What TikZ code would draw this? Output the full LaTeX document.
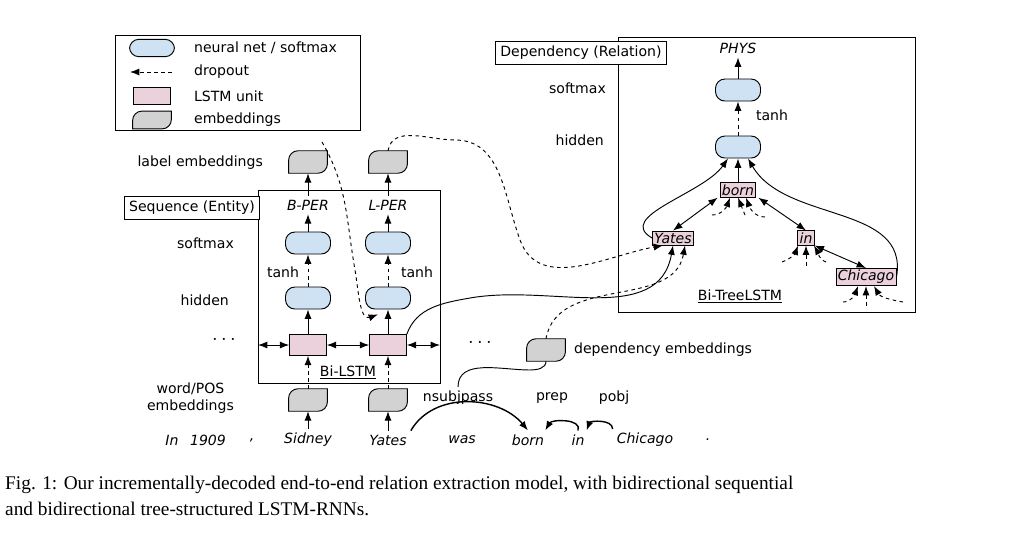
\documentclass[tikz,border=0pt]{standalone}
\usepackage{fontspec}
\setmainfont{DejaVu Sans}
\newfontfamily\capfont{Liberation Serif}
\usetikzlibrary{positioning,calc,arrows.meta}
\definecolor{nnblue}{RGB}{207,226,243}
\definecolor{lstmpink}{RGB}{234,209,220}
\tikzset{
  every node/.style={font=\fontsize{12}{14}\selectfont},
  nn/.style={draw,thick,fill=nnblue,rounded corners=8pt,minimum width=1.35cm,minimum height=.66cm},
  lstm/.style={draw,thick,fill=lstmpink,minimum width=1.1cm,minimum height=.62cm},
  tlstm/.style={draw,thick,fill=lstmpink,inner sep=1.5pt,font=\fontsize{12}{14}\selectfont\itshape},
  emb/.style={minimum width=1.15cm,minimum height=.66cm},
  embshape/.style={thick,fill=gray!35},
  lbox/.style={draw,thick,inner sep=4pt},
  wd/.style={font=\fontsize{12}{14}\selectfont\itshape},
  ar/.style={thick,-{Latex[length=8pt,width=6pt]}},
  dar/.style={thick,dashed,-{Latex[length=8pt,width=6pt]}},
  bar/.style={thick,{Latex[length=8pt,width=6pt]}-{Latex[length=8pt,width=6pt]}},
}
\newcommand{\embdraw}[1]{%
  \draw[embshape] (#1.south west) [rounded corners=8pt] -- (#1.north west) [sharp corners] -- (#1.north east) [rounded corners=8pt] -- (#1.south east) [sharp corners] -- cycle;}
\begin{document}
\begin{tikzpicture}[x=0.03cm,y=-0.03cm]
\useasboundingbox (0,0) rectangle (1030,548);

% legend
\draw[thick] (115,35) rectangle (360,130);
\node[nn,minimum height=.52cm] (lg1) at (152,48) {};
\coordinate (lga) at (130,72); \coordinate (lgb) at (172,72);
\draw[dar] (lgb) -- (lga);
\node[lstm,minimum height=.52cm] (lg3) at (152,96) {};
\node[emb,minimum height=.52cm] (lg4) at (152,120) {};
\embdraw{lg4}
\node[anchor=west] at (190,48) {neural net / softmax};
\node[anchor=west] at (190,72) {dropout};
\node[anchor=west] at (190,96) {LSTM unit};
\node[anchor=west] at (190,120) {embeddings};

% sequence layer
\draw[thick] (258,190) rectangle (440,383);
\node[lbox,fill=white] (seq) at (192,208) {Sequence (Entity)};
\foreach \c/\x/\l in {a/308/B-PER,b/388/L-PER}{
  \node[emb] (le\c) at (\x,162) {};
  \embdraw{le\c}
  \node[wd] (lab\c) at (\x,205) {\l};
  \node[nn] (sm\c) at (\x,243) {};
  \node[nn] (hd\c) at (\x,298) {};
  \node[lstm] (ls\c) at (\x,345) {};
  \node[emb] (we\c) at (\x,400) {};
  \embdraw{we\c}
  \draw[ar] (lab\c) -- (le\c);
  \draw[ar] (sm\c) -- (lab\c);
  \draw[dar] (hd\c) -- (sm\c);
  \draw[ar] (ls\c) -- (hd\c);
  \draw[dar] (we\c) -- (ls\c);
}
\node (tanha) at (283,272) {tanh};
\node (tanhb) at (417,272) {tanh};
\node[anchor=east] at (267,163) {label embeddings};
\node[anchor=east] at (238,243) {softmax};
\node[anchor=east] at (233,300) {hidden};
\node[anchor=east,align=center] at (238,398) {word/POS\\embeddings};
\node (dotsl) at (224,340) {\fontsize{16}{16}\selectfont\textbf{$\cdots$}};
\node (dotsr) at (480,343) {\fontsize{16}{16}\selectfont\textbf{$\cdots$}};
\coordinate (sl) at (258,345); \coordinate (sr) at (440,345);
\draw[bar] (sl) -- (lsa);
\draw[bar] (lsa) -- (lsb);
\draw[bar] (lsb) -- (sr);
\node (bilstm) at (348,372) {\underline{Bi-LSTM}};

% words
\foreach \n/\x/\w in {w1/172/In,w2/208/1909,w3/252/{,},w4/308/Sidney,w5/388/Yates,w6/462/was,w7/528/born,w8/578/in,w9/645/Chicago,w10/708/.}
  \node[wd] (\n) at (\x,440) {\w};
\draw[ar] (w4) -- (wea);
\draw[ar] (w5) -- (web);
\draw[ar,very thick] (w5.north east) to[out=60,in=130] (w7.north);
\draw[ar,very thick] (w8.north) to[out=70,in=60] ($(w7.north east)+(-3,0)$);
\draw[ar,very thick] (w9.north west) to[out=90,in=70] ($(w8.north east)+(-2,0)$);
\node (nsub) at (458,398) {nsubjpass};
\node (prep) at (552,398) {prep};
\node (pobj) at (614,398) {pobj};

% dependency layer
\draw[thick] (618,37) rectangle (915,312);
\node[lbox,fill=white] (dep) at (581,53) {Dependency (Relation)};
\node[wd] (phys) at (738,48) {PHYS};
\node[nn] (dsm) at (738,90) {};
\node[nn] (dhd) at (738,147) {};
\node (dtanh) at (772,115) {tanh};
\node[anchor=east] at (610,88) {softmax};
\node[anchor=east] at (608,140) {hidden};
\node[tlstm] (born) at (738,190) {born};
\node[tlstm] (yates) at (673,238) {Yates};
\node[tlstm] (in) at (806,238) {in};
\node[tlstm] (chic) at (866,277) {Chicago};
\node (btree) at (740,296) {\underline{Bi-TreeLSTM}};
\draw[ar] (dsm) -- (phys);
\draw[dar] (dhd) -- (dsm);
\draw[ar] (born) -- (dhd);
\draw[ar] (yates.west) to[out=150,in=235] ($(dhd.south)+(-10,0)$);
\draw[ar] (chic.east) to[out=80,in=-60] ($(dhd.south)+(10,0)$);
\draw[bar] (yates.north) -- ($(born.south west)+(-2,0)$);
\draw[bar] (in.north) -- ($(born.south east)+(2,0)$);
\draw[bar] (chic.north) -- (in.south east);
% dropout stubs
\coordinate (b1) at (712,215); \coordinate (b2) at (745,215); \coordinate (b3) at (765,217);
\draw[dar] (b1) to[out=0,in=-110] ($(born.south)+(-8,0)$);
\draw[dar] (b2) -- ($(born.south)+(0,0)$);
\draw[dar] (b3) to[out=180,in=-70] ($(born.south)+(8,0)$);
\coordinate (i1) at (782,262); \coordinate (i2) at (806,266); \coordinate (i3) at (826,262);
\draw[dar] (i1) to[out=20,in=-110] ($(in.south)+(-8,0)$);
\draw[dar] (i2) -- (in.south);
\draw[dar] (i3) to[out=160,in=-60] ($(in.south)+(8,0)$);
\coordinate (c1) at (843,302); \coordinate (c2) at (866,306); \coordinate (c3) at (903,302);
\draw[dar] (c1) to[out=0,in=-110] ($(chic.south)+(-8,0)$);
\draw[dar] (c2) -- (chic.south);
\draw[dar] (c3) to[out=170,in=-60] ($(chic.south)+(8,0)$);

% dependency embeddings
\node[emb] (demb) at (546,350) {};
\embdraw{demb}
\node[anchor=west] at (570,350) {dependency embeddings};
\draw[thick] (nsub.north) to[out=90,in=180] (530,370) to[out=0,in=-90] (demb.south);

% cross connections
\draw[dar] (322,142) coordinate (t1)
  (t1) to[out=-60,in=100] (355,270) to[out=-80,in=200] ($(hdb.south)+(-10,5)$);
\draw[dar] (leb.north) to[out=80,in=180] (455,140) to[out=0,in=110] (520,240) to[out=-70,in=190] ($(yates.south)+(-10,0)$);
\draw[ar] (lsb.north east) to[out=70,in=190] (470,298) to[out=10,in=-100] ($(yates.south)+(0,0)$);
\draw[dar] (demb.north) to[out=80,in=-100] ($(yates.south)+(12,0)$);

% caption
\node[anchor=north west,align=left,inner sep=0pt,
  font=\fontsize{16.5}{22}\selectfont\capfont] (cap) at (5,476)
  {Fig. 1: Our incrementally-decoded end-to-end relation extraction model, with bidirectional sequential\\and bidirectional tree-structured LSTM-RNNs.};
\end{tikzpicture}
\end{document}
